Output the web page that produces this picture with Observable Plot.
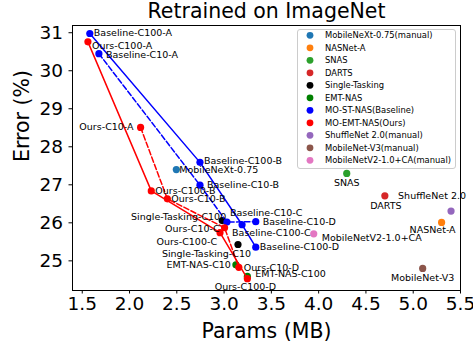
<!DOCTYPE html>
<html>
<head>
<meta charset="utf-8">
<script src="https://cdn.jsdelivr.net/npm/d3@7"></script>
<script src="https://cdn.jsdelivr.net/npm/@observablehq/plot@0.6"></script>
<style>
  html, body { margin: 0; padding: 0; background: white; }
  #chart { width: 473px; height: 347px; }
  svg { font-family: "DejaVu Sans", sans-serif; }
</style>
</head>
<body>
<div id="chart"></div>
<script>
// ---------- data ----------
const stageNames = ["A", "B", "C", "D"];

const baselineC100Params = [1.58, 2.745, 3.19, 3.335];
const baselineC100Error  = [30.98, 27.59, 25.95, 25.36];
const baselineC10Params  = [1.676, 2.745, 3.03, 3.335];
const baselineC10Error   = [30.45, 26.99, 26.02, 26.03];
const oursC100Params     = [1.56, 2.23, 2.957, 3.246];
const oursC100Error      = [30.76, 26.84, 25.74, 24.53];
const oursC10Params      = [2.117, 2.40, 3.005, 3.156];
const oursC10Error       = [28.51, 26.63, 25.87, 24.83];

const singleNames  = ["Single-Tasking-C100", "Single-Tasking-C10"];
const singleParams = [2.98, 3.147];
const singleError  = [26.06, 25.43];

const emtNames  = ["EMT-NAS-C10", "EMT-NAS-C100"];
const emtParams = [3.125, 3.246];
const emtError  = [24.895, 24.59];

const otherNames  = ["MobileNeXt-0.75", "NASNet-A", "SNAS", "DARTS", "ShuffleNet 2.0", "MobileNet-V3", "MobileNetV2-1.0+CA"];
const otherParams = [2.495, 5.30, 4.297, 4.70, 5.40, 5.10, 3.948];
const otherError  = [27.40, 26.01, 27.30, 26.71, 26.31, 24.80, 25.71];

const legendLabels = ["MobileNeXt-0.75(manual)", "NASNet-A", "SNAS", "DARTS", "Single-Tasking", "EMT-NAS",
  "MO-ST-NAS(Baseline)", "MO-EMT-NAS(Ours)", "ShuffleNet 2.0(manual)", "MobileNet-V3(manual)", "MobileNetV2-1.0+CA(manual)"];

const xTicks = [1.5, 2.0, 2.5, 3.0, 3.5, 4.0, 4.5, 5.0, 5.5];
const yTicks = [25, 26, 27, 28, 29, 30, 31];

// ---------- styles ----------
const legendColors = ["#1f77b4", "#ff7f0e", "#2ca02c", "#d62728", "#000000", "#008000",
  "#0000ff", "#ff0000", "#9467bd", "#8c564b", "#e377c2"];
const otherColors = ["#1f77b4", "#ff7f0e", "#2ca02c", "#d62728", "#9467bd", "#8c564b", "#e377c2"];

// label placement (pixel offsets from point): [dx, dy, anchor]
const labelLayout = {
  "Baseline-C100-A": [4, -1, "start"],
  "Ours-C100-A": [4, 4, "start"],
  "Baseline-C10-A": [7, 1, "start"],
  "Ours-C10-A": [-7, 0, "end"],
  "Baseline-C100-B": [4, -1, "start"],
  "MobileNeXt-0.75": [3, 0, "start"],
  "Baseline-C10-B": [7, 0, "start"],
  "Baseline-C10-C": [3, -9, "start"],
  "Baseline-C10-D": [7, 0, "start"],
  "Baseline-C100-C": [-10, 8, "start"],
  "Baseline-C100-D": [4, 0, "start"],
  "MobileNetV2-1.0+CA": [8, 4, "start"],
  "SNAS": [0, 10, "middle"],
  "DARTS": [1, 10, "middle"],
  "ShuffleNet 2.0": [-19, -15, "middle"],
  "NASNet-A": [-9, 8, "middle"],
  "MobileNet-V3": [0, 10, "middle"],
  "Single-Tasking-C100": [4, -4, "end"],
  "Ours-C10-C": [-5, 1, "end"],
  "Ours-C100-C": [-3, 9, "end"],
  "Single-Tasking-C10": [13, 9, "end"],
  "EMT-NAS-C10": [-5, 0, "end"],
  "Ours-C10-D": [5, 1, "start"],
  "EMT-NAS-C100": [8, -2, "start"],
  "Ours-C100-D": [-2, 8, "middle"]
};

// ---------- build tables ----------
const mk = (prefix, params, errs) => stageNames.map((s, i) => ({name: `${prefix}-${s}`, x: params[i], y: errs[i]}));
const baseC100 = mk("Baseline-C100", baselineC100Params, baselineC100Error);
const baseC10  = mk("Baseline-C10", baselineC10Params, baselineC10Error);
const oursC100 = mk("Ours-C100", oursC100Params, oursC100Error);
const oursC10  = mk("Ours-C10", oursC10Params, oursC10Error);
const single = singleNames.map((n, i) => ({name: n, x: singleParams[i], y: singleError[i]}));
const emt = emtNames.map((n, i) => ({name: n, x: emtParams[i], y: emtError[i]}));
const others = otherNames.map((n, i) => ({name: n, x: otherParams[i], y: otherError[i], c: otherColors[i]}));

const allLabeled = [...baseC100, ...baseC10, ...oursC100, ...oursC10, ...single, ...emt, ...others];

const R = 3.6;
const dash = "5.5,2.4";
const font = "DejaVu Sans";

const labelMarks = allLabeled.map(d => {
  const [dx, dy, anchor] = labelLayout[d.name] || [4, 0, "start"];
  return Plot.text([d], {x: "x", y: "y", text: "name", dx, dy, textAnchor: anchor, lineAnchor: "middle",
    fontSize: 9.5, fill: "black", fontFamily: font});
});

const chart = Plot.plot({
  width: 473, height: 347,
  marginLeft: 72, marginRight: 13, marginTop: 25, marginBottom: 57,
  style: {fontFamily: font, background: "white", color: "black", overflow: "visible"},
  x: {domain: [1.397, 5.5]},
  y: {domain: [24.22, 31.19]},
  marks: [
    Plot.axisX({ticks: xTicks, tickFormat: d3.format(".1f"), tickSize: 3.5, tickPadding: 3, fontSize: 18.5, label: null, fontFamily: font}),
    Plot.axisY({ticks: yTicks, tickFormat: d3.format("d"), tickSize: 3.5, tickPadding: 6, fontSize: 18.5, label: null, fontFamily: font}),
    // other methods
    Plot.dot(others, {x: "x", y: "y", r: R, fill: "c"}),
    Plot.dot(single, {x: "x", y: "y", r: R, fill: "#000000"}),
    Plot.dot(emt, {x: "x", y: "y", r: R, fill: "#008000"}),
    // baseline lines + dots
    Plot.line(baseC100, {x: "x", y: "y", stroke: "#0000ff", strokeWidth: 1.5}),
    Plot.line(baseC10, {x: "x", y: "y", stroke: "#0000ff", strokeWidth: 1.5, strokeDasharray: dash}),
    Plot.dot([...baseC100, ...baseC10], {x: "x", y: "y", r: R, fill: "#0000ff"}),
    // ours
    Plot.line(oursC100, {x: "x", y: "y", stroke: "#ff0000", strokeWidth: 1.5}),
    Plot.line(oursC10, {x: "x", y: "y", stroke: "#ff0000", strokeWidth: 1.5, strokeDasharray: dash}),
    Plot.dot([...oursC100, ...oursC10], {x: "x", y: "y", r: R, fill: "#ff0000"}),
    ...labelMarks,
    Plot.frame({stroke: "black", strokeWidth: 1}),
    // title and axis labels
    Plot.text(["Retrained on ImageNet"], {text: d => d, frameAnchor: "top", dy: -14, lineAnchor: "middle", fontSize: 20.5, fontFamily: font}),
    Plot.text(["Params (MB)"], {text: d => d, frameAnchor: "bottom", dy: 40.5, lineAnchor: "middle", fontSize: 20.5, fontFamily: font}),
    Plot.text(["Error (%)"], {text: d => d, frameAnchor: "left", dx: -50, dy: 4, rotate: -90, lineAnchor: "middle", fontSize: 20.5, fontFamily: font})
  ]
});

// legend (inset box, upper right)
const svg = d3.select(chart);
const lg = svg.append("g").attr("font-family", font).attr("text-anchor", "start");
lg.append("rect").attr("x", 297.5).attr("y", 29.5).attr("width", 158).attr("height", 139)
  .attr("rx", 2.5).attr("fill", "white").attr("fill-opacity", 0.8).attr("stroke", "#cccccc").attr("stroke-width", 1);
legendLabels.forEach((t, i) => {
  const cy = 35.3 + i * 12.5;
  lg.append("circle").attr("cx", 310).attr("cy", cy).attr("r", 3.4).attr("fill", legendColors[i]);
  lg.append("text").attr("x", 325).attr("y", cy).attr("dy", "0.35em").attr("font-size", 8.4)
    .attr("text-anchor", "start").attr("fill", "black").text(t);
});

document.getElementById("chart").appendChild(chart);
</script>
</body>
</html>
